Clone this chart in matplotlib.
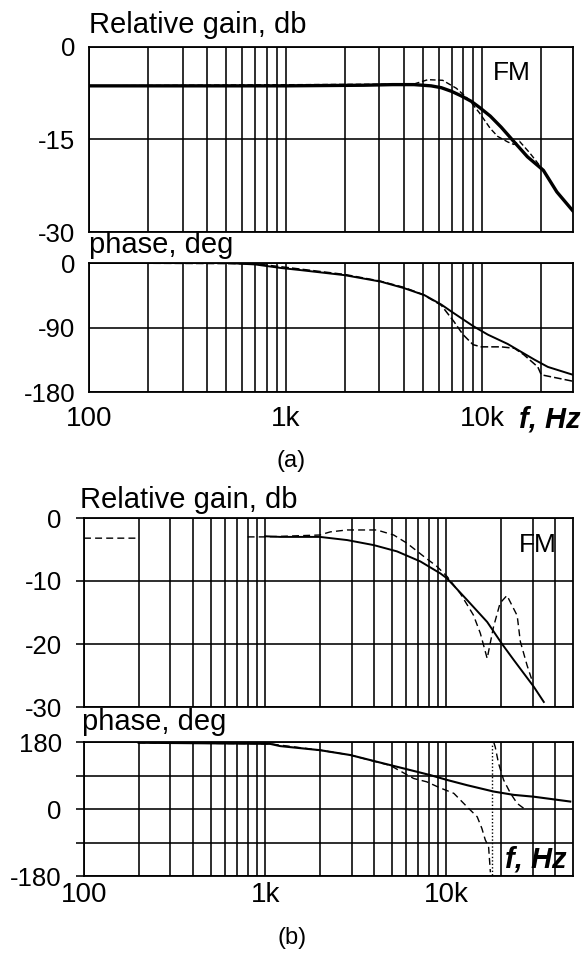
import numpy as np
import matplotlib
matplotlib.use('Agg')
import matplotlib.pyplot as plt

plt.rcParams['font.family'] = ['Liberation Sans', 'DejaVu Sans']
plt.rcParams['axes.unicode_minus'] = False

nan = np.nan

# ---------------- Panel (a) ----------------
a_gain_solid_f = [100, 1000, 2500, 3500, 4500, 5500, 6200, 7000, 7800, 8800, 9700, 11000, 12500, 14200, 17000, 20500, 24000, 29000]
a_gain_solid_v = [-6.3, -6.3, -6.2, -6.1, -6.1, -6.3, -6.6, -7.2, -7.9, -8.8, -9.8, -11.2, -13.0, -15.0, -17.8, -20.0, -23.5, -26.6]

a_gain_dash_f = [100, 4500, 5300, 6300, 7400, 8600, 9700, 11000, 12000, 13500, 14500, 15500, 17500, 20500, 24000, 29000]
a_gain_dash_v = [-6.3, -6.0, -5.3, -5.4, -6.7, -8.6, -10.7, -13.2, -14.5, -15.4, -15.8, -15.3, -17.2, -20.0, -23.5, -26.6]

a_phase_solid_f = [100, 500, 700, 950, 1200, 2000, 3050, 4000, 5100, 6200, 7000, 9000, 10700, 13500, 18500, 21600, 29000]
a_phase_solid_v = [0, 0, -2, -7, -10, -17, -26, -35, -45, -58, -68, -88, -100, -113, -135, -145, -156]

a_phase_dash_f = [100, 700, 1000, 2000, 3000, 4000, 5000, 6200, 7200, 8000, 9000, 9900, 12500, 14600, 16300, 19200, 20000, 29000]
a_phase_dash_v = [0, -1, -6, -16, -25, -34, -44, -59, -82, -100, -114, -117, -117, -119, -128, -145, -156, -165]

# ---------------- Panel (b) ----------------
b_gain_solid_f = [1000, 1210, 2000, 2830, 3970, 5340, 7190, 9270, 10100, 13000, 16800, 20300, 23500, 30400, 34500]
b_gain_solid_v = [-2.9, -3.0, -3.0, -3.5, -4.3, -5.3, -6.9, -8.8, -9.6, -13.0, -16.5, -20.0, -22.5, -26.8, -29.2]

b_gain_dash_f = [100, 200, 300, 800, 1000, 2000, 2290, 2830, 4130, 5120, 6060, 7500, 8880, 10100, 11950, 14100, 15400, 16800, 18200, 19800, 21600, 24600, 25600, 27900, 29500]
b_gain_dash_v = [-3.2, -3.2, nan, -3.0, -3.0, -2.7, -2.2, -1.9, -1.9, -2.7, -4.0, -6.1, -7.7, -9.3, -12.0, -15.4, -18.3, -22.3, -17.3, -13.5, -12.3, -15.5, -19.6, -23.4, -25.5]

b_phase_solid_f = [200, 1065, 1210, 2010, 2950, 4130, 5810, 8160, 10100, 13000, 18200, 23500, 30400, 48300]
b_phase_solid_v = [178, 175, 169, 158, 145, 127, 109, 91, 78, 64, 47, 38, 33, 20]

b_phase_dash_f = [200, 1065, 2010, 2950, 4900, 6600, 7800, 9100, 11000, 13000, 14800, 15700, 16400, 17100, 17500, nan, 18300, 18600, 19400, 20700, 22600, 24600, 26700]
b_phase_dash_v = [178, 175, 158, 145, 117, 82, 73, 58, 42, 6, -21, -52, -83, -101, -170, nan, 178, 167, 123, 78, 42, 15, 2]

b_phase_wrap_f = [17900, 17900]
b_phase_wrap_v = [-178, 178]

x_major = [100, 1000, 10000]
x_major_labels = ['100', '1k', '10k']

W, H = 586, 955
fig = plt.figure(figsize=(W / 100, H / 100), dpi=100)
fig.patch.set_facecolor('white')


def px_axes(l, t, r, b):
    return fig.add_axes([l / W, 1 - b / H, (r - l) / W, (b - t) / H])


def ftext(x, y, s, **kw):
    fig.text(x / W, 1 - y / H, s, **kw)


def setup(ax, xlim, ylim, yticks, ylabels, xlabels, ytick_len, ypad, xpad, minor_max):
    ax.set_xscale('log')
    ax.set_xlim(*xlim)
    ax.set_ylim(*ylim)
    minors = [m * d for d in (100, 1000, 10000) for m in range(2, 10) if m * d < minor_max]
    ax.set_xticks(x_major)
    ax.set_xticks(minors, minor=True)
    ax.set_xticklabels(x_major_labels if xlabels else [''] * 3)
    ax.set_xticklabels([''] * len(minors), minor=True)
    ax.set_yticks(yticks)
    ax.set_yticklabels(ylabels)
    ax.grid(True, which='both', axis='x', color='black', lw=1.15)
    ax.grid(True, which='major', axis='y', color='black', lw=1.15)
    ax.tick_params(axis='x', which='both', length=0, pad=xpad, labelsize=20)
    ax.tick_params(axis='y', which='both', length=ytick_len, width=1.15, pad=ypad,
                   labelsize=18.5, direction='out', color='black')
    for s in ax.spines.values():
        s.set_linewidth(1.3)
        s.set_color('black')
    ax.set_axisbelow(True)


# Panel (a) gain
ax1 = px_axes(89, 47, 573, 232)
setup(ax1, (100, 29000), (-30, 0), [0, -15, -30], ['0', '-15', '-30'], False, 0, 10, 0, 29000)
ax1.plot(a_gain_dash_f, a_gain_dash_v, color='black', lw=1.0, ls=(0, (4, 2)))
ax1.plot(a_gain_solid_f, a_gain_solid_v, color='black', lw=2.4)

# Panel (a) phase
ax2 = px_axes(89, 263, 573, 392)
setup(ax2, (100, 29000), (-180, 0), [0, -90, -180], ['0', '-90', '-180'], True, 0, 10, 10, 29000)
ax2.plot(a_phase_dash_f, a_phase_dash_v, color='black', lw=1.1, ls=(0, (5, 2)))
ax2.plot(a_phase_solid_f, a_phase_solid_v, color='black', lw=1.4)

# Panel (b) gain
ax3 = px_axes(84, 518, 573, 707)
setup(ax3, (100, 50000), (-30, 0), [0, -10, -20, -30], ['0', '-10', '-20', '-30'], False, 6, 10, 0, 50000)
ax3.plot(b_gain_dash_f, b_gain_dash_v, color='black', lw=1.0, ls=(0, (5, 3)))
ax3.plot(b_gain_solid_f, b_gain_solid_v, color='black', lw=1.4)

# Panel (b) phase
ax4 = px_axes(84, 742, 573, 876)
setup(ax4, (100, 50000), (-180, 180), [180, 90, 0, -90, -180], ['180', '', '0', '', '-180'], True, 6, 10, 4, 50000)
ax4.plot(b_phase_dash_f, b_phase_dash_v, color='black', lw=1.0, ls=(0, (5, 3)))
ax4.plot(b_phase_wrap_f, b_phase_wrap_v, color='black', lw=1.0, ls=(0, (1, 1.5)))
ax4.plot(b_phase_solid_f, b_phase_solid_v, color='black', lw=1.5)

# Texts
lab = dict(fontsize=21, color='black', ha='left', va='baseline')
ftext(89, 33, 'Relative gain, db', **lab)
ftext(89, 253, 'phase, deg', **lab)
ftext(80, 508, 'Relative gain, db', **lab)
ftext(82, 730, 'phase, deg', **lab)

ftext(493, 80, 'FM', fontsize=19, ha='left', va='baseline')
ftext(519, 552, 'FM', fontsize=19, ha='left', va='baseline')

ftext(519, 419, 'f, Hz', fontsize=21, fontweight='bold', fontstyle='italic', ha='left', va='center')
ftext(505, 860, 'f, Hz', fontsize=21, fontweight='bold', fontstyle='italic', ha='left', va='center')

ftext(291, 461, '(a)', fontsize=17, ha='center', va='center')
ftext(292, 938, '(b)', fontsize=17, ha='center', va='center')

fig.savefig('out.png', dpi=100, facecolor='white')
